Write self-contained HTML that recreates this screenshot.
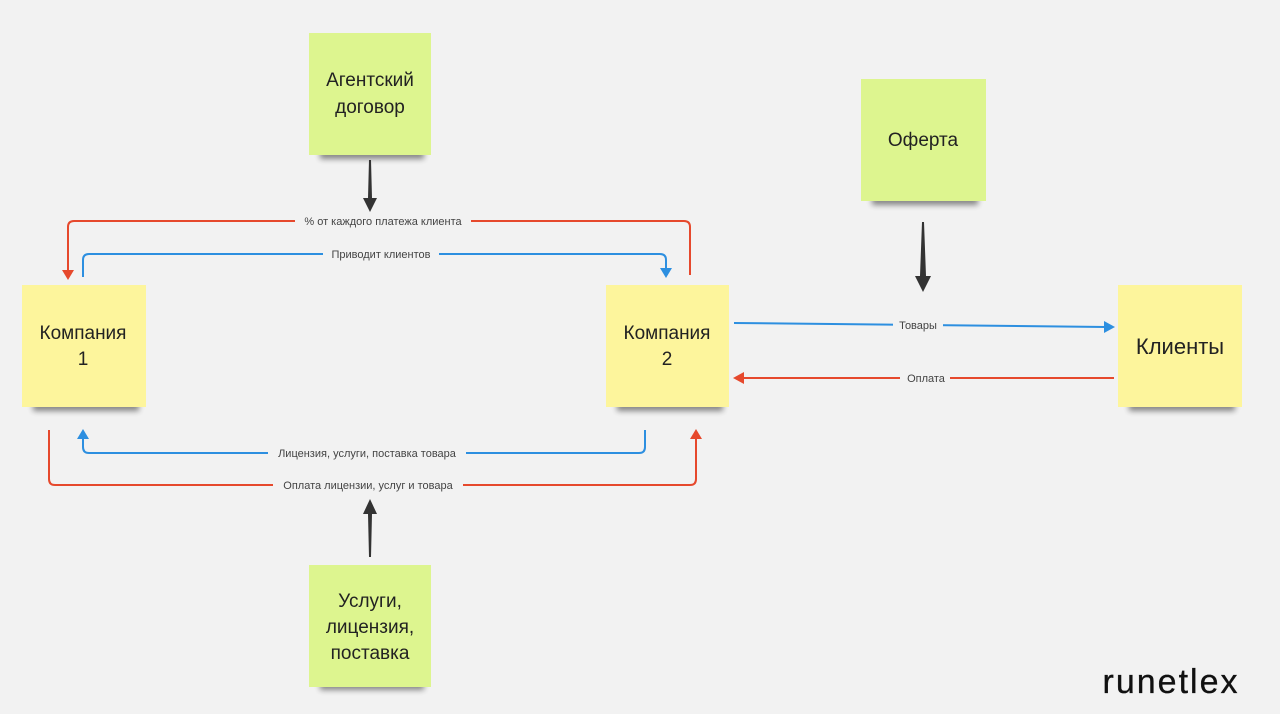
<!DOCTYPE html>
<html><head><meta charset="utf-8"><style>
html,body{margin:0;padding:0;background:#f2f2f2;width:1280px;height:714px;overflow:hidden}
svg{display:block}
.n{font-family:"Liberation Sans","DejaVu Sans",sans-serif;fill:#222;text-anchor:middle}
.l{font-family:"Liberation Sans","DejaVu Sans",sans-serif;font-size:11px;fill:#444;text-anchor:middle}
</style></head><body>
<svg width="1280" height="714" viewBox="0 0 1280 714" xmlns="http://www.w3.org/2000/svg">
<defs>
<filter id="sh" x="-20%" y="-50%" width="140%" height="200%"><feGaussianBlur stdDeviation="3"/></filter>
</defs>
<rect width="1280" height="714" fill="#f2f2f2"/>
<g fill="#000" opacity="0.45" filter="url(#sh)">
<rect x="320" y="150" width="104" height="9"/>
<rect x="872" y="196" width="106" height="9"/>
<rect x="320" y="681" width="104" height="9"/>
<rect x="33" y="402" width="106" height="9"/>
<rect x="617" y="402" width="106" height="9"/>
<rect x="1129" y="402" width="106" height="9"/>
</g>
<rect x="309" y="33" width="122" height="122" fill="#ddf58f"/>
<rect x="861" y="79" width="125" height="122" fill="#ddf58f"/>
<rect x="309" y="565" width="122" height="122" fill="#ddf58f"/>
<rect x="22" y="285" width="124" height="122" fill="#fdf59c"/>
<rect x="606" y="285" width="123" height="122" fill="#fdf59c"/>
<rect x="1118" y="285" width="124" height="122" fill="#fdf59c"/>
<text class="n" font-size="19" x="370" y="86">Агентский</text>
<text class="n" font-size="19" x="370" y="113">договор</text>
<text class="n" font-size="19" x="923" y="146">Оферта</text>
<text class="n" font-size="19" x="370" y="607">Услуги,</text>
<text class="n" font-size="19" x="370" y="633">лицензия,</text>
<text class="n" font-size="19" x="370" y="659">поставка</text>
<text class="n" font-size="19" x="83" y="339">Компания</text>
<text class="n" font-size="19" x="83" y="365">1</text>
<text class="n" font-size="19" x="667" y="339">Компания</text>
<text class="n" font-size="19" x="667" y="365">2</text>
<text class="n" font-size="22" x="1180" y="354">Клиенты</text>
<g fill="none" stroke-width="2">
<path d="M690 275 V227 Q690 221 684 221 H74 Q68 221 68 227 V272" stroke="#e6492d"/>
<path d="M83 277 V260 Q83 254 89 254 H660 Q666 254 666 260 V270" stroke="#2d8fe0"/>
<path d="M645 430 V447 Q645 453 639 453 H89 Q83 453 83 447 V437" stroke="#2d8fe0"/>
<path d="M49 430 V479 Q49 485 55 485 H690 Q696 485 696 479 V437" stroke="#e6492d"/>
<path d="M734 323 L1106 327" stroke="#2d8fe0"/>
<path d="M1114 378 L742 378" stroke="#e6492d"/>
</g>
<path d="M62 270 L68 280 L74 270 Z" fill="#e6492d"/>
<path d="M660 268 L666 278 L672 268 Z" fill="#2d8fe0"/>
<path d="M77 439 L83 429 L89 439 Z" fill="#2d8fe0"/>
<path d="M690 439 L696 429 L702 439 Z" fill="#e6492d"/>
<path d="M1104 321 L1115 327 L1104 333 Z" fill="#2d8fe0"/>
<path d="M744 372 L733 378 L744 384 Z" fill="#e6492d"/>
<path d="M369 160 L371 160 L372 198 L377 198 L370 212 L363 198 L368 198 Z" fill="#333"/>
<path d="M369 557 L371 557 L372 514 L377 514 L370 499 L363 514 L368 514 Z" fill="#333"/>
<path d="M922 222 L924 222 L926 276 L931 276 L923 292 L915 276 L920 276 Z" fill="#333"/>
<g fill="#f2f2f2">
<rect x="295" y="214" width="176" height="14"/>
<rect x="323" y="247" width="116" height="14"/>
<rect x="268" y="446" width="198" height="14"/>
<rect x="273" y="478" width="190" height="14"/>
<rect x="893" y="318" width="50" height="14"/>
<rect x="900" y="371" width="50" height="14"/>
</g>
<text class="l" x="383" y="225">% от каждого платежа клиента</text>
<text class="l" x="381" y="258">Приводит клиентов</text>
<text class="l" x="367" y="457">Лицензия, услуги, поставка товара</text>
<text class="l" x="368" y="489">Оплата лицензии, услуг и товара</text>
<text class="l" x="918" y="329">Товары</text>
<text class="l" x="926" y="382">Оплата</text>
<text x="1171" y="693" font-family="Liberation Sans, DejaVu Sans, sans-serif" font-size="34" fill="#111" stroke="#111" stroke-width="0.3" text-anchor="middle" letter-spacing="2">runetlex</text>
</svg>
</body></html>
